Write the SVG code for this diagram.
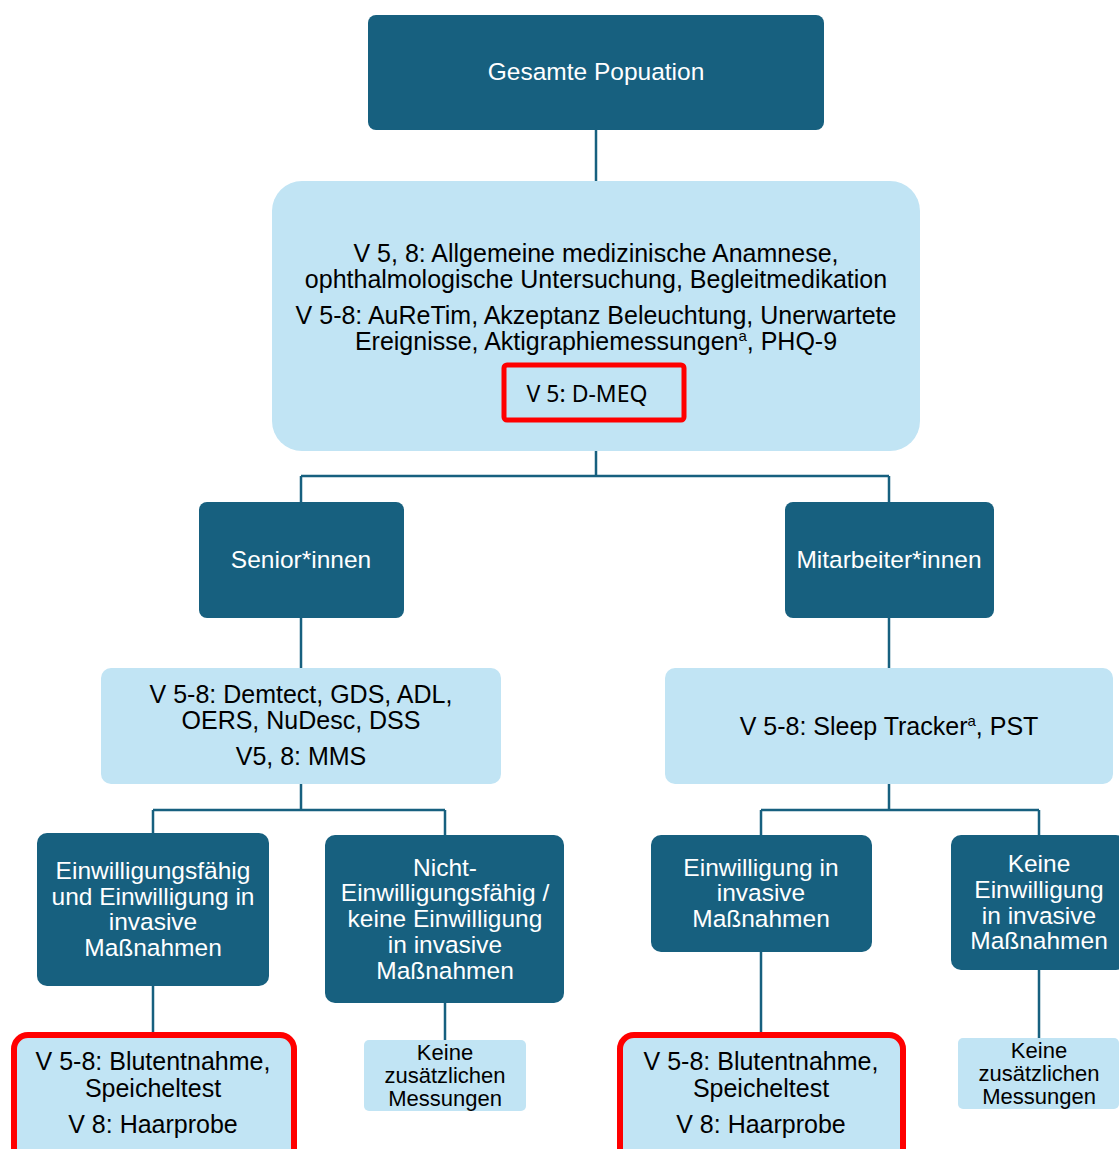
<svg xmlns="http://www.w3.org/2000/svg" width="1119" height="1149" viewBox="0 0 1119 1149">
<style>
.dark{fill:#17607f}
.light{fill:#c1e4f4}
.red{fill:#c1e4f4;stroke:#ff0000;stroke-width:6}
.tw{font-family:"Liberation Sans",Arial,sans-serif;font-size:24.5px;fill:#ffffff;text-anchor:middle}
.tb{font-family:"Liberation Sans",Arial,sans-serif;font-size:25px;fill:#000000;text-anchor:middle}
.ts{font-family:"Liberation Sans",Arial,sans-serif;font-size:22px;fill:#000000;text-anchor:middle}
.tn{font-family:"Noto Sans","Open Sans",sans-serif;font-size:23px;fill:#000000;text-anchor:middle}
.conn{fill:none;stroke:#17607f;stroke-width:2.5}
</style>
<rect width="1119" height="1149" fill="#ffffff"/>
<g id="connectors" class="conn">
<path d="M596 130V181"/>
<path d="M596 451V476M301 476H889M301 476V502M889 476V502"/>
<path d="M301 618V668M889 618V668"/>
<path d="M301 784V810M153 810H445M153 810V833M445 810V835"/>
<path d="M889 784V810M761 810H1039M761 810V835M1039 810V835"/>
<path d="M153 986V1033M445 1003V1040M761 952V1033M1039 970V1038"/>
</g>
<g id="gesamt"><rect class="dark" x="368" y="15" width="456" height="115" rx="8"/><text class="tw" x="596" y="80">Gesamte Popuation</text></g>
<g id="allgemein"><rect class="light" x="272" y="181" width="648" height="270" rx="30"/>
<text class="tb" x="596" y="262">V 5, 8: Allgemeine medizinische Anamnese,</text>
<text class="tb" x="596" y="288">ophthalmologische Untersuchung, Begleitmedikation</text>
<text class="tb" x="596" y="324">V 5-8: AuReTim, Akzeptanz Beleuchtung, Unerwartete</text>
<text class="tb" x="596" y="350">Ereignisse, Aktigraphiemessungen<tspan font-size="15" dy="-9">a</tspan><tspan dy="9">, PHQ-9</tspan></text>
<rect x="504" y="365" width="180" height="55" rx="3" fill="none" stroke="#ff0000" stroke-width="5"/>
<text class="tn" x="587" y="402">V 5: D-MEQ</text>
</g>
<g id="senior"><rect class="dark" x="199" y="502" width="205" height="116" rx="8"/><text class="tw" x="301" y="568">Senior*innen</text></g>
<g id="mitarbeiter"><rect class="dark" x="785" y="502" width="209" height="116" rx="8"/><text class="tw" x="889" y="568">Mitarbeiter*innen</text></g>
<g id="senior-tests"><rect class="light" x="101" y="668" width="400" height="116" rx="10"/>
<text class="tb" x="301" y="703">V 5-8: Demtect, GDS, ADL,</text>
<text class="tb" x="301" y="729">OERS, NuDesc, DSS</text>
<text class="tb" x="301" y="765">V5, 8: MMS</text></g>
<g id="mitarbeiter-tests"><rect class="light" x="665" y="668" width="448" height="116" rx="10"/>
<text class="tb" x="889" y="735">V 5-8: Sleep Tracker<tspan font-size="15" dy="-9">a</tspan><tspan dy="9">, PST</tspan></text></g>
<g id="einw-senior"><rect class="dark" x="37" y="833" width="232" height="153" rx="10"/>
<text class="tw" x="153" y="879">Einwilligungsfähig</text>
<text class="tw" x="153" y="905">und Einwilligung in</text>
<text class="tw" x="153" y="930">invasive</text>
<text class="tw" x="153" y="956">Maßnahmen</text></g>
<g id="nicht-einw"><rect class="dark" x="325" y="835" width="239" height="168" rx="10"/>
<text class="tw" x="445" y="876">Nicht-</text>
<text class="tw" x="445" y="901">Einwilligungsfähig /</text>
<text class="tw" x="445" y="927">keine Einwilligung</text>
<text class="tw" x="445" y="953">in invasive</text>
<text class="tw" x="445" y="979">Maßnahmen</text></g>
<g id="einw-mit"><rect class="dark" x="651" y="835" width="221" height="117" rx="10"/>
<text class="tw" x="761" y="876">Einwilligung in</text>
<text class="tw" x="761" y="901">invasive</text>
<text class="tw" x="761" y="927">Maßnahmen</text></g>
<g id="keine-einw"><rect class="dark" x="951" y="835" width="175" height="135" rx="10"/>
<text class="tw" x="1039" y="872">Keine</text>
<text class="tw" x="1039" y="898">Einwilligung</text>
<text class="tw" x="1039" y="924">in invasive</text>
<text class="tw" x="1039" y="949">Maßnahmen</text></g>
<g id="blut-senior"><rect class="red" x="14" y="1035" width="280" height="130" rx="14"/>
<text class="tb" x="153" y="1070">V 5-8: Blutentnahme,</text>
<text class="tb" x="153" y="1097">Speicheltest</text>
<text class="tb" x="153" y="1133">V 8: Haarprobe</text></g>
<g id="keine-senior"><rect class="light" x="364" y="1040" width="162" height="71" rx="5"/>
<text class="ts" x="445" y="1060">Keine</text>
<text class="ts" x="445" y="1083">zusätzlichen</text>
<text class="ts" x="445" y="1106">Messungen</text></g>
<g id="blut-mit"><rect class="red" x="620" y="1035" width="283" height="130" rx="14"/>
<text class="tb" x="761" y="1070">V 5-8: Blutentnahme,</text>
<text class="tb" x="761" y="1097">Speicheltest</text>
<text class="tb" x="761" y="1133">V 8: Haarprobe</text></g>
<g id="keine-mit"><rect class="light" x="958" y="1038" width="161" height="71" rx="5"/>
<text class="ts" x="1039" y="1058">Keine</text>
<text class="ts" x="1039" y="1081">zusätzlichen</text>
<text class="ts" x="1039" y="1104">Messungen</text></g>
</svg>
